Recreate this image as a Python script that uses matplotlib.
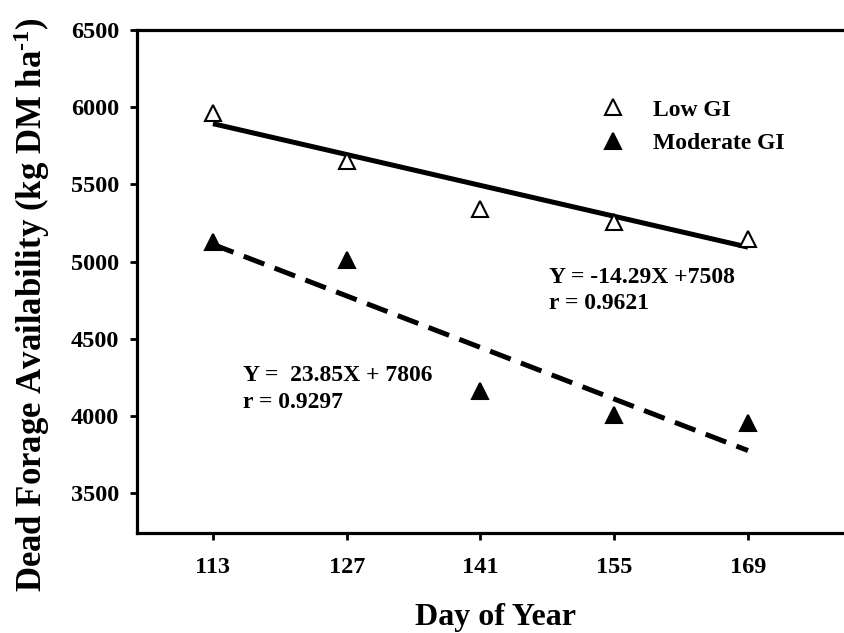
import matplotlib
matplotlib.use("Agg")
import matplotlib.pyplot as plt
import numpy as np

# Day of year sampled
days = [113, 127, 141, 155, 169]

# Dead forage availability (kg DM/ha) by grazing intensity
low_gi = [5965, 5652, 5338, 5258, 5148]
moderate_gi = [5129, 5009, 4164, 4005, 3951]

# Regression fits (slope, intercept) and their printed labels
low_fit = (-14.29, 7508)
moderate_fit = (-23.85, 7806)
low_eq = "Y = -14.29X +7508"
low_r = "r = 0.9621"
mod_eq = "Y =  23.85X + 7806"
mod_r = "r = 0.9297"

y_ticks = [3500, 4000, 4500, 5000, 5500, 6000, 6500]

plt.rcParams["font.family"] = ["Liberation Serif", "DejaVu Serif"]
plt.rcParams["font.weight"] = "bold"
plt.rcParams["mathtext.fontset"] = "custom"
plt.rcParams["mathtext.rm"] = "Liberation Serif:bold"
plt.rcParams["mathtext.it"] = "Liberation Serif:bold"
plt.rcParams["mathtext.bf"] = "Liberation Serif:bold"
plt.rcParams["mathtext.default"] = "rm"

fig = plt.figure(figsize=(8.44, 6.33), dpi=100)
ax = fig.add_axes([137 / 844, 1 - 533 / 633, 707 / 844, 503 / 633])

# Fitted lines
xfit = np.array([days[0], days[-1]], dtype=float)
ax.plot(xfit, low_fit[0] * xfit + low_fit[1], color="black", lw=3.6,
        solid_capstyle="butt", zorder=2)
ax.plot(xfit, moderate_fit[0] * xfit + moderate_fit[1], color="black", lw=3.6,
        dashes=(4.4, 2.2), dash_capstyle="butt", zorder=2)

# Observations
h_low, = ax.plot(days, low_gi, linestyle="none", marker="^", ms=11.5,
                 mfc="white", mec="black", mew=1.5, zorder=3, label="Low GI")
h_mod, = ax.plot(days, moderate_gi, linestyle="none", marker="^", ms=11.5,
                 mfc="black", mec="black", mew=1.5, zorder=3, label="Moderate GI")

ax.set_xlim(105.05, 179.05)
ax.set_ylim(3241, 6500)
ax.set_xticks(days)
ax.set_yticks(y_ticks)

for side in ("left", "bottom", "top"):
    ax.spines[side].set_linewidth(2.3)
ax.spines["right"].set_visible(False)

ax.tick_params(axis="both", direction="out", length=5, width=2, labelsize=17.5)
ax.tick_params(axis="y", pad=8)
ax.tick_params(axis="x", pad=12)
ax.tick_params(top=False, right=False)
for lab in ax.get_xticklabels() + ax.get_yticklabels():
    lab.set_fontweight("bold")

ax.set_xlabel("Day of Year", fontsize=23, fontweight="bold", va="center")
ax.xaxis.set_label_coords((495 - 137) / 707, (533 - 617) / 503)
ax.set_ylabel(r"Dead Forage Availability (kg DM ha$^{\text{-1}}$)", fontsize=25,
              fontweight="bold", va="center")
ax.yaxis.set_label_coords((32 - 137) / 707, (533 - 305) / 503)

# Regression annotations
ax.text(148.2, 4895, low_eq, fontsize=17, fontweight="bold", ha="left", va="center")
ax.text(148.2, 4730, low_r, fontsize=17, fontweight="bold", ha="left", va="center")
ax.text(116.1, 4262, mod_eq, fontsize=17, fontweight="bold", ha="left", va="center")
ax.text(116.1, 4085, mod_r, fontsize=17, fontweight="bold", ha="left", va="center")

leg = ax.legend(handles=[h_low, h_mod], loc="upper left",
                bbox_to_anchor=((601 - 137) / 707, (533 - 99) / 503),
                frameon=False, fontsize=17, handlelength=1.0,
                handletextpad=1.2, labelspacing=0.5, borderaxespad=0,
                borderpad=0)
for t in leg.get_texts():
    t.set_fontweight("bold")

fig.savefig("out.png", dpi=100)
